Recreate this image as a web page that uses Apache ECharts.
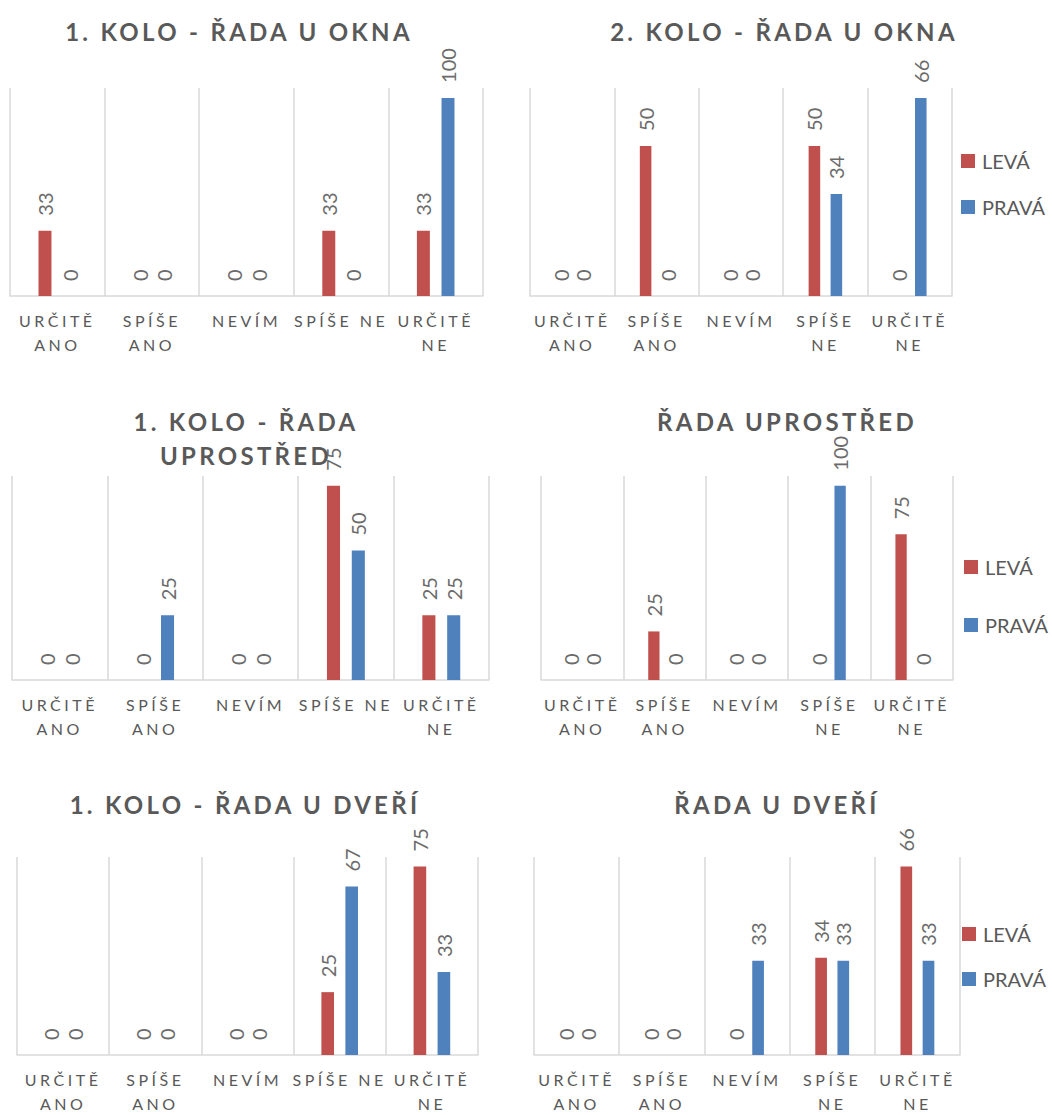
<!DOCTYPE html>
<html>
<head>
<meta charset="utf-8">
<script src="https://cdn.jsdelivr.net/npm/echarts@6/dist/echarts.min.js"></script>
<style>
html,body{margin:0;padding:0;background:#fff;}
#c{width:1052px;height:1115px;}
#c text[style*="24px"]{letter-spacing:3.3px;}
#c text[style*="16px"]{letter-spacing:3.5px;}
</style>
</head>
<body>
<div id="c"></div>
<script>
// ---- data ----
const categories = ['URČITĚ ANO', 'SPÍŠE ANO', 'NEVÍM', 'SPÍŠE NE', 'URČITĚ NE'];
const tickLabelsWide = ['URČITĚ\nANO', 'SPÍŠE\nANO', 'NEVÍM', 'SPÍŠE NE', 'URČITĚ\nNE'];
const tickLabelsNarrow = ['URČITĚ\nANO', 'SPÍŠE\nANO', 'NEVÍM', 'SPÍŠE\nNE', 'URČITĚ\nNE'];
const seriesNames = ['LEVÁ', 'PRAVÁ'];
const titles = ['1. KOLO - ŘADA U OKNA', '2. KOLO - ŘADA U OKNA', '1. KOLO - ŘADA\nUPROSTŘED', 'ŘADA UPROSTŘED', '1. KOLO - ŘADA U DVEŘÍ', 'ŘADA U DVEŘÍ'];

const okna1Leva = [33, 0, 0, 33, 33];
const okna1Prava = [0, 0, 0, 0, 100];
const okna2Leva = [0, 50, 0, 50, 0];
const okna2Prava = [0, 0, 0, 34, 66];
const uprostred1Leva = [0, 0, 0, 75, 25];
const uprostred1Prava = [0, 25, 0, 50, 25];
const uprostred2Leva = [0, 25, 0, 0, 75];
const uprostred2Prava = [0, 0, 0, 100, 0];
const dvere1Leva = [0, 0, 0, 25, 75];
const dvere1Prava = [0, 0, 0, 67, 33];
const dvere2Leva = [0, 0, 0, 34, 66];
const dvere2Prava = [0, 0, 33, 33, 33];

const chartData = [
  [okna1Leva, okna1Prava],
  [okna2Leva, okna2Prava],
  [uprostred1Leva, uprostred1Prava],
  [uprostred2Leva, uprostred2Prava],
  [dvere1Leva, dvere1Prava],
  [dvere2Leva, dvere2Prava]
];

// ---- layout ----
const grids = [
  {left: 10, top: 88, width: 473, height: 208},
  {left: 530, top: 88, width: 422, height: 208},
  {left: 12, top: 476, width: 477, height: 204},
  {left: 541, top: 476, width: 412, height: 204},
  {left: 17, top: 857, width: 461, height: 204},
  {left: 534, top: 857, width: 426, height: 204}
];
const titlePos = [
  {x: 239, y: 14}, {x: 784, y: 14},
  {x: 246, y: 404}, {x: 787, y: 404},
  {x: 245, y: 787}, {x: 777, y: 787}
];
const legends = [
  {left: 961, top: 151, gap: 26},
  {left: 964, top: 557, gap: 38},
  {left: 962, top: 924, gap: 25}
];
const colors = ['#C0504D', '#4F81BD'];
const gray = '#595959';
const font = 'Lato';

const option = {
  backgroundColor: '#fff',
  animation: false,
  title: titles.map((t, i) => ({
    text: t,
    left: titlePos[i].x,
    top: titlePos[i].y,
    textAlign: 'center',
    padding: 0,
    textStyle: {fontFamily: font, fontSize: 24, fontWeight: 'bold', color: gray, lineHeight: 34}
  })),
  legend: legends.map(l => ({
    data: seriesNames,
    orient: 'vertical',
    left: l.left,
    top: l.top,
    itemGap: l.gap,
    itemWidth: 14,
    itemHeight: 14,
    icon: 'rect',
    padding: 0,
    selectedMode: false,
    textStyle: {fontFamily: font, fontSize: 20, lineHeight: 20, color: gray, padding: [0, 0, 0, 2]}
  })),
  grid: grids.map(g => Object.assign({containLabel: false}, g)),
  xAxis: grids.map((g, i) => ({
    type: 'category',
    gridIndex: i,
    data: categories,
    axisLine: {show: true, lineStyle: {color: '#d9d9d9', width: 1.5}},
    axisTick: {show: false},
    splitLine: {show: true, lineStyle: {color: '#d9d9d9', width: 1.5}},
    axisLabel: {
      interval: 0,
      margin: 12,
      fontFamily: font,
      fontSize: 16,
      color: gray,
      lineHeight: 24,
      formatter: (v, idx) => (i % 2 === 0 ? tickLabelsWide : tickLabelsNarrow)[idx]
    }
  })),
  yAxis: grids.map((g, i) => ({
    type: 'value',
    gridIndex: i,
    show: false,
    min: 0,
    max: v => v.max * 1.05,
    splitLine: {show: false}
  })),
  series: []
};

chartData.forEach((pair, i) => {
  pair.forEach((vals, s) => {
    option.series.push({
      type: 'bar',
      name: seriesNames[s],
      xAxisIndex: i,
      yAxisIndex: i,
      data: vals,
      barWidth: '13.7%',
      barGap: '90%',
      itemStyle: {color: colors[s]},
      label: {
        show: true,
        position: 'top',
        rotate: 90,
        align: 'left',
        verticalAlign: 'middle',
        distance: 15,
        fontFamily: font,
        fontSize: 20,
        color: '#6b6b6b'
      }
    });
  });
});

const chart = echarts.init(document.getElementById('c'), null, {renderer: 'svg'});
chart.setOption(option);
</script>
</body>
</html>
